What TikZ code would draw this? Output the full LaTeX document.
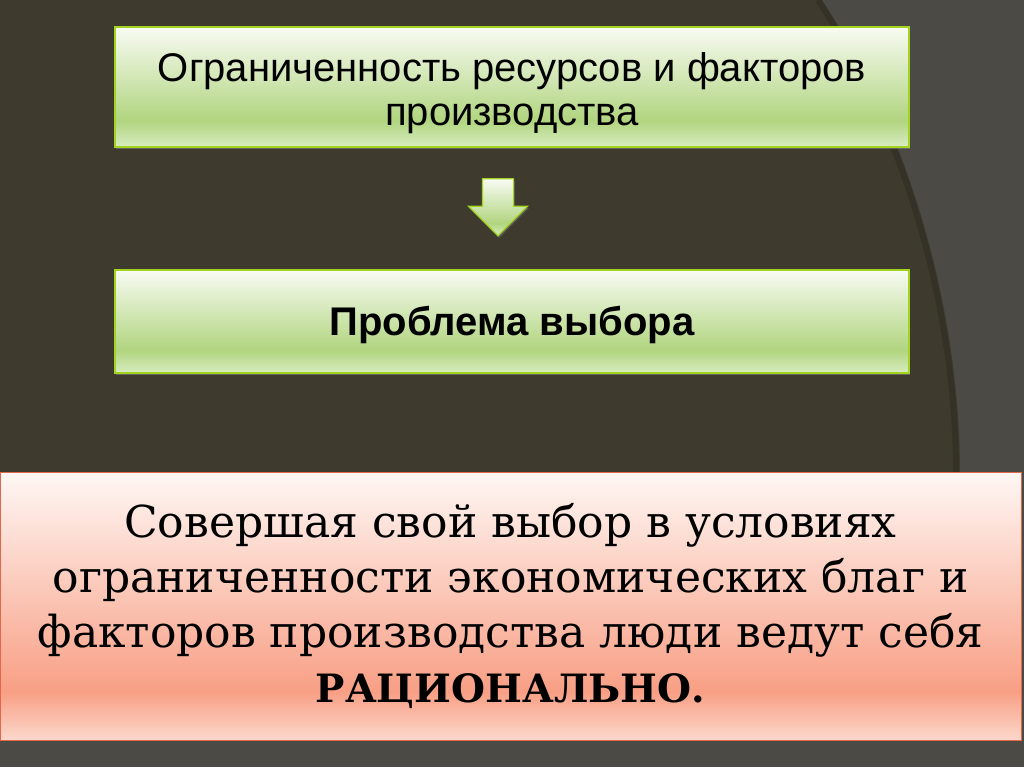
\documentclass[tikz,border=0pt]{standalone}
\usepackage{fontspec}
\usepackage{tikz}
\usetikzlibrary{shapes.arrows,shadows,positioning}
\newfontfamily\boxfont{Liberation Sans}
\newfontfamily\bandfont{DejaVu Serif}

\definecolor{bgdark}{HTML}{3E3B2E}
\definecolor{bggray}{HTML}{4B4A44}
\definecolor{gtop}{HTML}{F8FBF3}
\definecolor{gmid}{HTML}{B1D57F}
\definecolor{gbot}{HTML}{D8ECC2}
\definecolor{gline}{HTML}{A2D31F}
\definecolor{ptop}{HTML}{FEF7F4}
\definecolor{pmid}{HTML}{F89F85}
\definecolor{pbot}{HTML}{FBD8CB}
\definecolor{pline}{HTML}{E2674B}

\pgfdeclareverticalshading{greenglass}{100bp}{color(0bp)=(gbot); color(25bp)=(gbot); color(36bp)=(gmid); color(75bp)=(gtop); color(100bp)=(gtop)}
\pgfdeclareverticalshading{pinkglass}{100bp}{color(0bp)=(pbot); color(25bp)=(pbot); color(34bp)=(pmid); color(75bp)=(ptop); color(100bp)=(ptop)}

\newcommand{\lowered}[2]{\raisebox{-#1}[\height][\depth]{#2}}

\tikzset{
  greenbox/.style={draw=gline, line width=1.5pt, shade, shading=greenglass,
    minimum width=794pt, align=center, text=black,
    drop shadow={shadow xshift=1pt, shadow yshift=-2pt, opacity=.6}},
  arrowbox/.style={single arrow, shape border rotate=270, draw=gline, line width=1.2pt,
    shade, shading=greenglass, inner sep=15pt, minimum height=57pt,
    single arrow head extend=14pt,
    drop shadow={shadow xshift=1pt, shadow yshift=-2pt, opacity=.5}},
  band/.style={draw=pline, line width=1pt, shade, shading=pinkglass,
    minimum width=1021pt, minimum height=268pt, align=center, text=black,
    font=\bandfont\fontsize{44}{55}\selectfont}
}

\begin{document}
\begin{tikzpicture}[x=1pt,y=-1pt]
    % slide background
    \useasboundingbox (0,0) rectangle (1024,767);
    \fill[bggray] (0,0) rectangle (1024,767);
    \fill[bgdark] (0,0) -- (822,0) .. controls (920,150) and (960,330) .. (960,472) -- (0,472) -- cycle;
    \draw[black, opacity=.15, line width=6pt] (818,0) .. controls (916,150) and (956,330) .. (956,472);

    % two steps and the arrow
    \node[greenbox, minimum height=120pt, font=\boxfont\fontsize{40}{44}\selectfont] (limits) at (512,87)
        {\lowered{6pt}{Ограниченность ресурсов и факторов}\\\lowered{6pt}{производства}};
    \node[arrowbox] (arr) at (498,199.5) {};
    \node[greenbox, minimum height=103pt, font=\boxfont\bfseries\fontsize{40}{44}\selectfont] (choice) at (512,321.5)
        {\lowered{3pt}{Проблема выбора}};

    % conclusion
    \node[band] (rational) at (510.5,606)
        {Совершая свой выбор в условиях\\ограниченности экономических благ и\\факторов производства люди ведут себя\\{\fontsize{39}{55}\selectfont\bfseries РАЦИОНАЛЬНО.}};
\end{tikzpicture}
\end{document}
